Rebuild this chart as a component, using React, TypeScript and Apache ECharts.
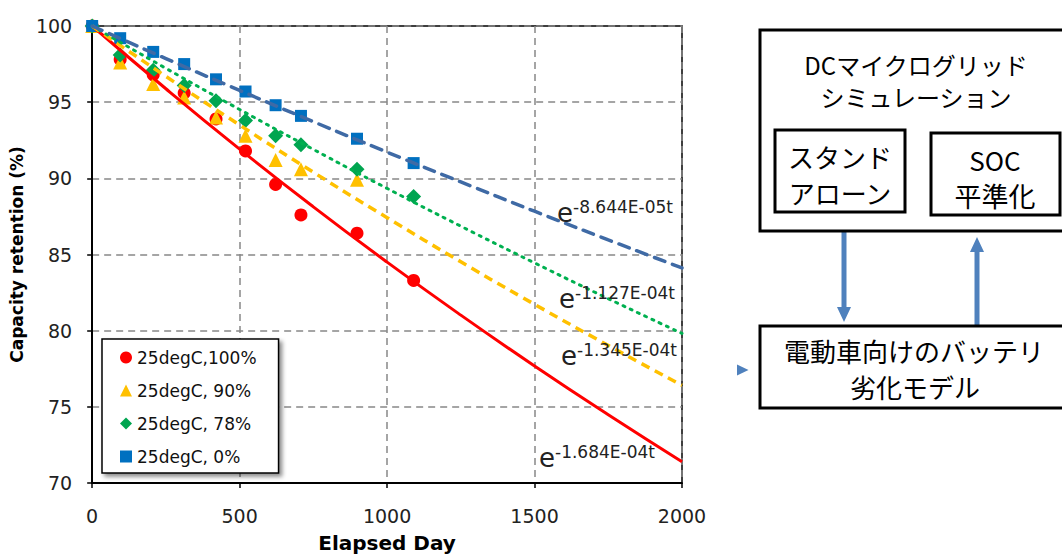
import React, { useEffect, useRef } from "react";
import * as echarts from "echarts";

// Measured points (elapsed day, capacity retention %)
const days = [0, 95, 207, 312, 420, 520, 622, 708, 898, 1090];
const red100 = [100, 97.8, 96.8, 95.6, 93.9, 91.8, 89.6, 87.6, 86.4, 83.3];
const yellow90 = [100, 97.6, 96.2, 95.3, 94.0, 92.8, 91.2, 90.6, 89.9];
const green78 = [100, 98.1, 97.1, 96.1, 95.1, 93.8, 92.8, 92.2, 90.6, 88.8];
const blue0 = [100, 99.2, 98.3, 97.5, 96.5, 95.7, 94.8, 94.1, 92.6, 91.0];

// Fitted curves
const fitDays = [0, 250, 500, 750, 1000, 1250, 1500, 1750, 2000];
const fitRed = [100, 95.88, 91.92, 88.13, 84.5, 81.02, 77.68, 74.48, 71.4];
const fitYellow = [100, 96.69, 93.5, 90.4, 87.42, 84.52, 81.73, 79.03, 76.41];
const fitGreen = [100, 97.22, 94.52, 91.9, 89.34, 86.86, 84.45, 82.1, 79.82];
const fitBlue = [100, 97.86, 95.77, 93.72, 91.72, 89.76, 87.84, 85.96, 84.12];

const seriesNames = ["25degC,100%", "25degC, 90%", "25degC, 78%", "25degC, 0%"];
const fitLabels = ["-1.684E-04t", "-1.345E-04t", "-1.127E-04t", "-8.644E-05t"];

const zip = (xs: number[], ys: number[]) => ys.map((y, i) => [xs[i], y]);

const FONT = "'DejaVu Sans', Verdana, sans-serif";
const JP = "'Noto Sans CJK JP', sans-serif";
const ARROW = "#4f81bd";

export default function App() {
  const ref = useRef<HTMLDivElement>(null);
  useEffect(() => {
    if (!ref.current) return;
    const chart = echarts.init(ref.current, undefined, { renderer: "svg" });

    const expLabel = (exp: string, ex: number, ey: number, sy: number) => [
      { type: "text", x: ex, y: ey, z: 100, style: { text: "e", fontSize: 26, fontFamily: FONT, fill: "#222", align: "left", verticalAlign: "middle" } },
      { type: "text", x: ex + 16, y: sy, z: 100, style: { text: exp, fontSize: 17, fontFamily: FONT, fill: "#222", align: "left", verticalAlign: "middle" } },
    ];

    const jpText = (text: string, x: number, y: number, size: number) => ({
      type: "text", x, y, z: 20,
      style: { text, fontSize: size, fontFamily: JP, fill: "#000", align: "center", verticalAlign: "middle" },
    });
    const box = (x: number, y: number, w: number, h: number) => ({
      type: "rect", z: 10, shape: { x, y, width: w, height: h },
      style: { fill: "#fff", stroke: "#000", lineWidth: 3 },
    });

    const option: any = {
      animation: false,
      backgroundColor: "#fff",
      grid: { left: 92, top: 26, right: 380, bottom: 70, show: true, borderColor: "#000", borderWidth: 1.5, backgroundColor: "transparent" },
      xAxis: {
        type: "value", min: 0, max: 2000, interval: 500,
        name: "Elapsed Day", nameLocation: "middle", nameGap: 50,
        nameTextStyle: { fontFamily: FONT, fontWeight: "bold", fontSize: 20, color: "#000" },
        axisLine: { lineStyle: { color: "#000", width: 2 } },
        axisTick: { show: true, length: 5, lineStyle: { color: "#000", width: 1.5 } },
        axisLabel: { fontFamily: FONT, fontSize: 19, color: "#222", margin: 23, formatter: (v: number) => String(v) },
        splitLine: { show: true, lineStyle: { color: "#888", width: 1.5, type: [7, 5] } },
      },
      yAxis: {
        type: "value", min: 70, max: 100, interval: 5,
        name: "Capacity retention (%)", nameLocation: "middle", nameGap: 62,
        nameTextStyle: { fontFamily: FONT, fontWeight: "bold", fontSize: 17, color: "#000" },
        axisLine: { show: true, lineStyle: { color: "#000", width: 2 } },
        axisTick: { show: true, length: 5, lineStyle: { color: "#000", width: 1.5 } },
        axisLabel: { fontFamily: FONT, fontSize: 19, color: "#222", margin: 20, formatter: (v: number) => String(v) },
        splitLine: { show: true, lineStyle: { color: "#888", width: 1.5, type: [7, 5] } },
      },
      legend: {
        data: seriesNames,
        orient: "vertical", left: 102, top: 339,
        backgroundColor: "#fff", borderColor: "#000", borderWidth: 1.5,
        padding: [10, 22, 8, 18], itemGap: 16, itemWidth: 12, itemHeight: 12,
        shadowColor: "rgba(0,0,0,0.45)", shadowBlur: 4, shadowOffsetX: 3, shadowOffsetY: 3,
        textStyle: { fontFamily: FONT, fontSize: 17, color: "#111" },
        z: 50,
      },
      series: [
        { name: seriesNames[0], type: "scatter", symbol: "circle", symbolSize: 13, itemStyle: { color: "#ff0000", opacity: 1 }, data: zip(days, red100), z: 3 },
        { name: seriesNames[1], type: "scatter", symbol: "triangle", symbolSize: 14, itemStyle: { color: "#ffc000", opacity: 1 }, data: zip(days, yellow90), z: 3 },
        { name: seriesNames[2], type: "scatter", symbol: "diamond", symbolSize: 15, itemStyle: { color: "#00a550", opacity: 1 }, data: zip(days, green78), z: 3 },
        { name: seriesNames[3], type: "scatter", symbol: "rect", symbolSize: 12, itemStyle: { color: "#0070c0", opacity: 1 }, data: zip(days, blue0), z: 3 },
        { name: "fit100", type: "line", smooth: true, showSymbol: false, data: zip(fitDays, fitRed), lineStyle: { color: "#ff0000", width: 3 }, z: 4 },
        { name: "fit90", type: "line", smooth: true, showSymbol: false, data: zip(fitDays, fitYellow), lineStyle: { color: "#ffc000", width: 3.5, type: [9, 6] }, z: 4 },
        { name: "fit78", type: "line", smooth: true, showSymbol: false, data: zip(fitDays, fitGreen), lineStyle: { color: "#00b050", width: 3, type: [2, 6], cap: "round" }, z: 4 },
        { name: "fit0", type: "line", smooth: true, showSymbol: false, data: zip(fitDays, fitBlue), lineStyle: { color: "#3f6aa5", width: 3.5, type: [11, 8], cap: "round" }, z: 4 },
      ],
      graphic: [
        ...expLabel(fitLabels[3], 557, 213, 207),
        ...expLabel(fitLabels[2], 559, 299, 293),
        ...expLabel(fitLabels[1], 561, 356, 350),
        ...expLabel(fitLabels[0], 539, 458, 452),
        // diagram
        box(760, 30, 320, 201),
        box(775, 130, 130, 82),
        box(931, 133, 129, 82),
        jpText("DCマイクログリッド", 916, 64, 24),
        jpText("シミュレーション", 916, 96, 24),
        jpText("スタンド", 840, 156, 26),
        jpText("アローン", 840, 192, 26),
        jpText("SOC", 995, 159, 26),
        jpText("平準化", 995, 195, 27),
        { type: "line", z: 5, shape: { x1: 844, y1: 232, x2: 844, y2: 309 }, style: { stroke: ARROW, lineWidth: 5 } },
        { type: "polygon", z: 5, shape: { points: [[837, 307], [851, 307], [844, 322]] }, style: { fill: ARROW } },
        { type: "line", z: 5, shape: { x1: 977, y1: 250, x2: 977, y2: 326 }, style: { stroke: ARROW, lineWidth: 5 } },
        { type: "polygon", z: 5, shape: { points: [[970, 252], [984, 252], [977, 237]] }, style: { fill: ARROW } },
        box(760, 326, 320, 82),
        jpText("電動車向けのバッテリ", 914, 350, 26),
        jpText("劣化モデル", 915, 386, 26),
        { type: "polygon", z: 5, shape: { points: [[737, 364.5], [748.5, 370], [737, 375.5]] }, style: { fill: ARROW } },
      ],
    };
    chart.setOption(option);
    return () => chart.dispose();
  }, []);
  return <div ref={ref} style={{ position: "fixed", left: 0, top: 0, width: 1062, height: 558, background: "#fff" }} />;
}
